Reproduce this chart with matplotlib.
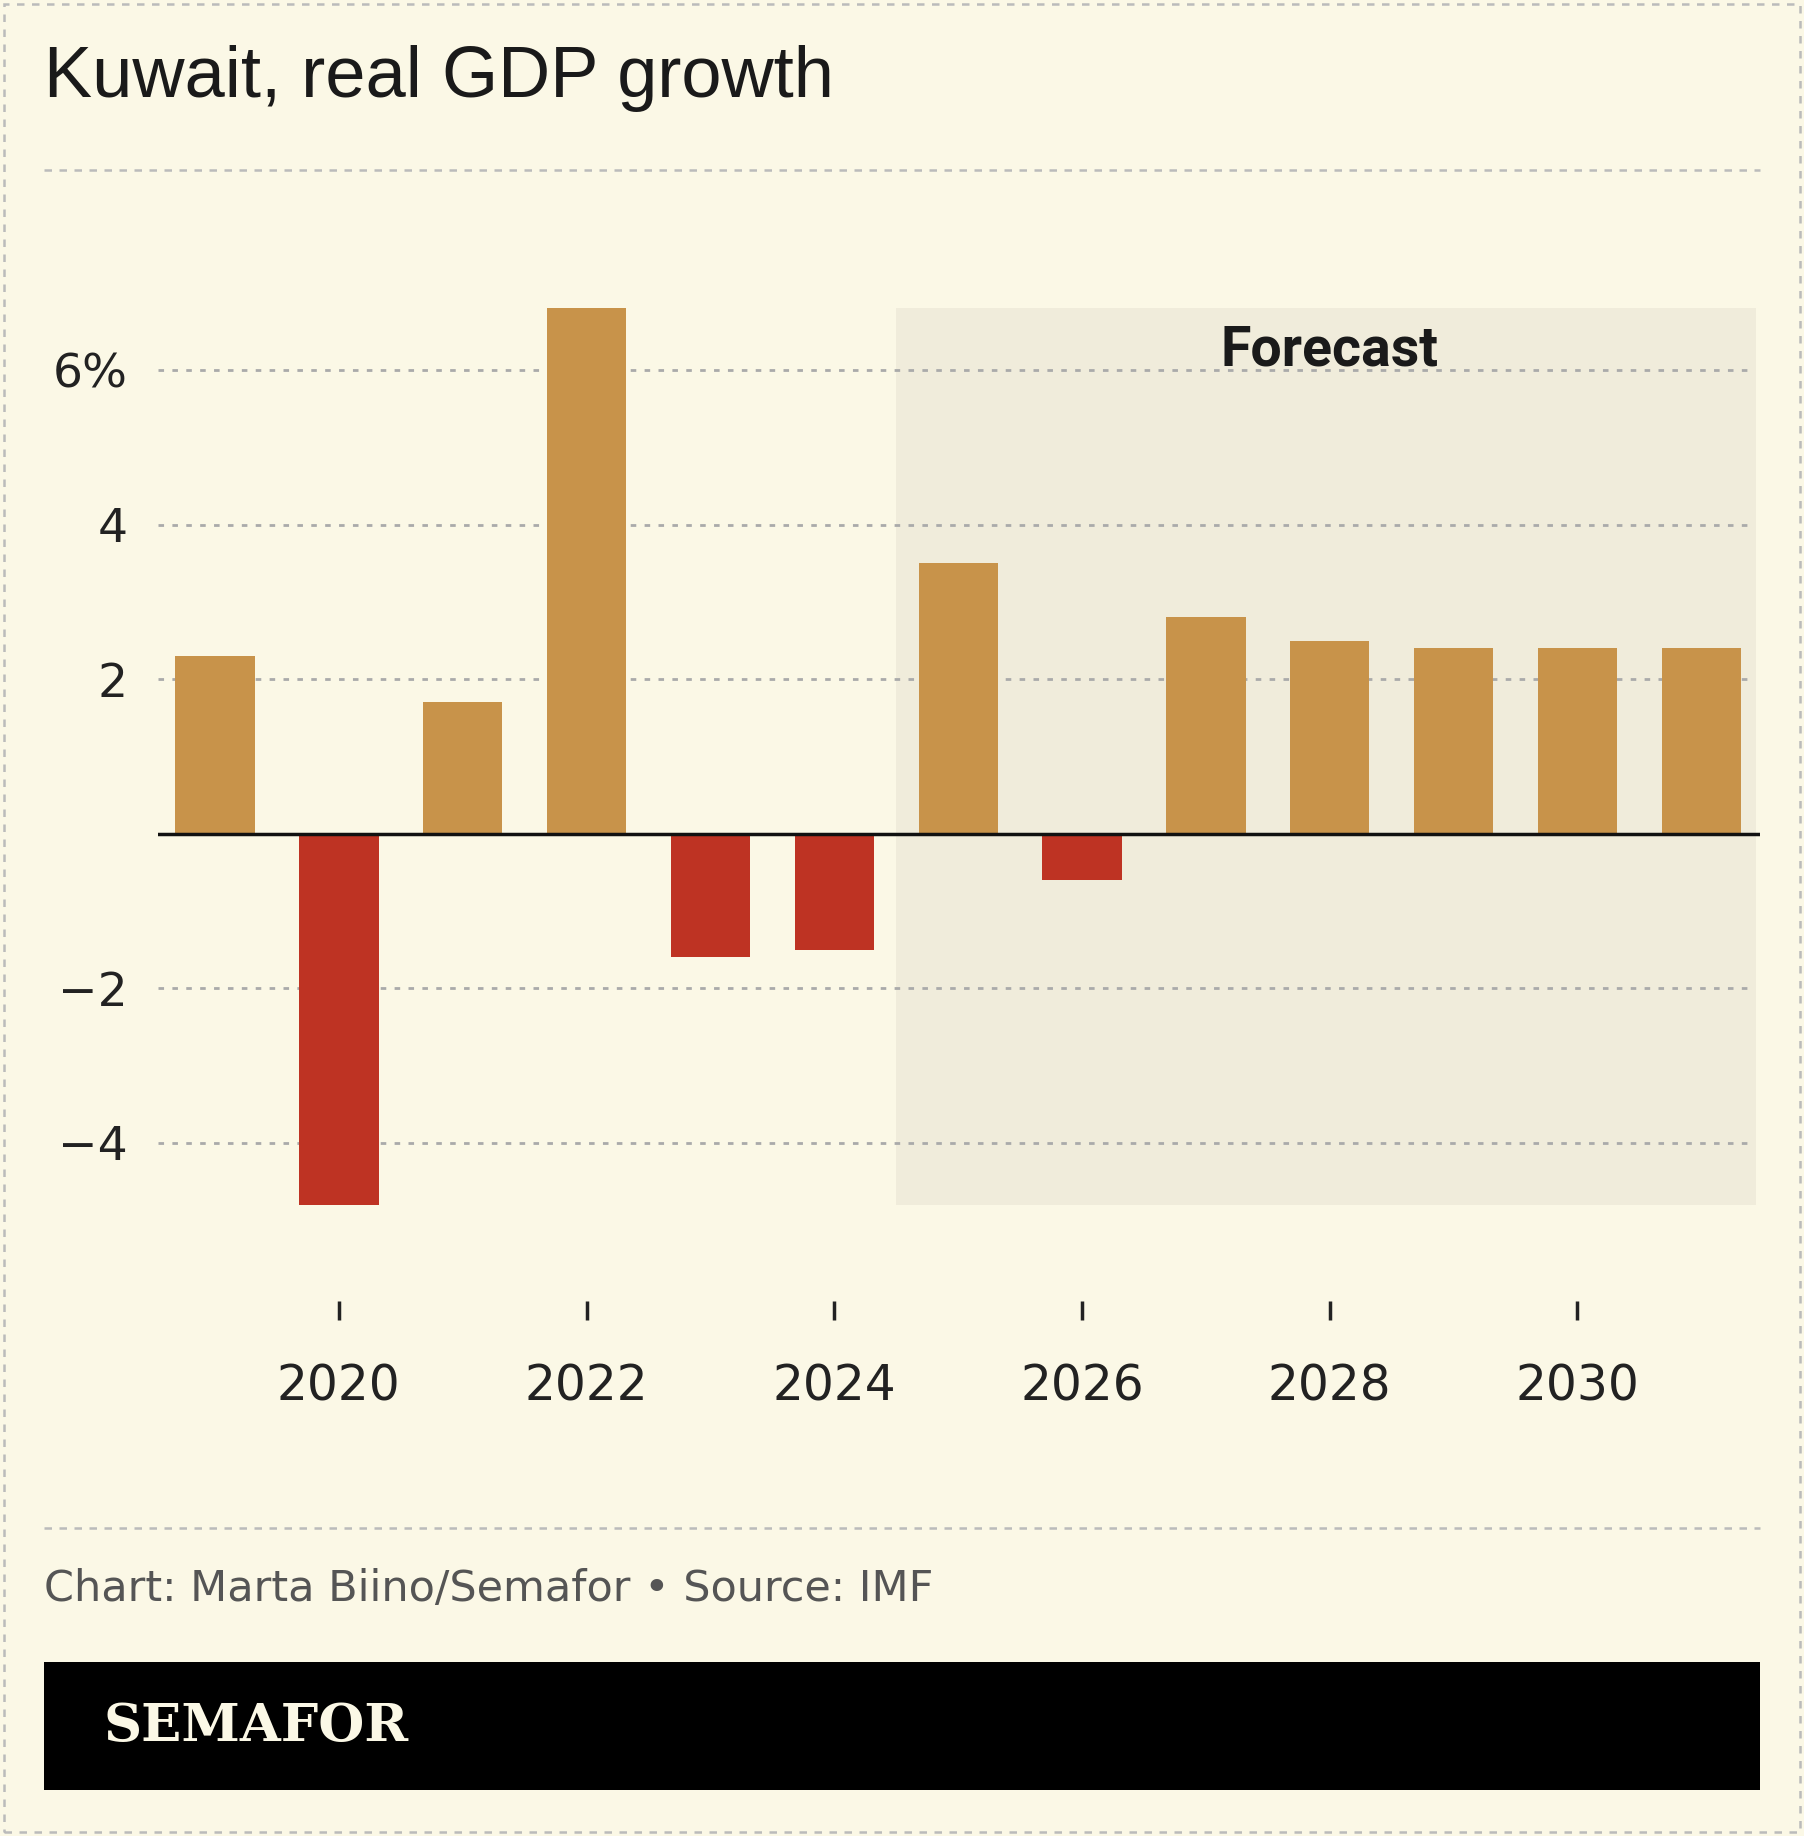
import matplotlib
matplotlib.use("Agg")
import matplotlib.pyplot as plt
from matplotlib.patches import Rectangle
from matplotlib.lines import Line2D

years = [2019, 2020, 2021, 2022, 2023, 2024, 2025, 2026, 2027, 2028, 2029, 2030, 2031]
growth = [2.3, -4.8, 1.7, 6.8, -1.6, -1.5, 3.5, -0.6, 2.8, 2.5, 2.4, 2.4, 2.4]
yticks = [-4, -2, 2, 4, 6]
ytick_labels = ["\u22124", "\u22122", "2", "4", "6%"]
xticks = [2020, 2022, 2024, 2026, 2028, 2030]
forecast_start = 2024.5

BG = "#FBF8E6"
W, H = 1541, 1566
fig = plt.figure(figsize=(18.04, 18.36), dpi=100, facecolor=BG)

def fx(x): return x / W
def fy(y): return 1 - y / H

ax = fig.add_axes([fx(135), fy(1110), fx(1503) - fx(135), fy(263) - fy(1110)])
ax.set_facecolor(BG)
ax.set_xlim(2018.54, 2031.47)
ax.set_ylim(-6.05, 6.8)

ax.add_patch(Rectangle((forecast_start, -4.8), 2031.44 - forecast_start, 11.6,
                       facecolor="#F0ECDB", edgecolor="none", zorder=0))
for t in yticks:
    ax.axhline(t, color="#AAAAAA", linestyle=(0, (2, 3)), linewidth=2, zorder=1, xmax=0.996)
colors = ["#C8934A" if v >= 0 else "#BE3323" for v in growth]
ax.bar(years, growth, width=0.64, color=colors, zorder=2)
ax.axhline(0, color="#111111", linewidth=2.5, zorder=3)
ax.text(2028.0, 6.25, "Forecast", fontsize=40, fontweight="bold", ha="center", va="center",
        color="#1a1a1a", family="Roboto", fontstretch="condensed", zorder=4)

for s in ax.spines.values():
    s.set_visible(False)
ax.set_yticks(yticks)
ax.set_yticklabels(ytick_labels)
ax.set_xticks(xticks)
ax.set_xticklabels([str(x) for x in xticks])
ax.tick_params(axis="y", length=0, pad=22, labelsize=34, labelcolor="#222222")
ax.tick_params(axis="x", direction="out", length=14, width=2.5, color="#222222",
               pad=30, labelsize=35, labelcolor="#222222")

fig.text(fx(38), fy(67), "Kuwait, real GDP growth", fontsize=52, family="Liberation Sans",
         va="center", ha="left", color="#1a1a1a")
for yy in (145, 1303):
    fig.add_artist(Line2D([fx(38), fx(1503)], [fy(yy), fy(yy)], color="#BBBBBB",
                          linestyle=(0, (3, 3)), linewidth=1.8))
fig.text(fx(38), fy(1355), "Chart: Marta Biino/Semafor \u2022 Source: IMF", fontsize=31,
         va="center", ha="left", color="#555555")
fig.add_artist(Rectangle((fx(38), fy(1527)), fx(1503) - fx(38), fy(1418) - fy(1527),
                         transform=fig.transFigure, facecolor="black", edgecolor="none"))
fig.text(fx(88), fy(1473), "SEMAFOR", fontsize=38, fontweight="bold", family="DejaVu Serif",
         va="center", ha="left", color="#FBF8E6")
fig.add_artist(Rectangle((0.002, 0.002), 0.996, 0.996, transform=fig.transFigure, fill=False,
                         edgecolor="#BBBBBB", linestyle=(0, (3, 3)), linewidth=1.8))

fig.savefig("out.png", dpi=100, facecolor=BG)
